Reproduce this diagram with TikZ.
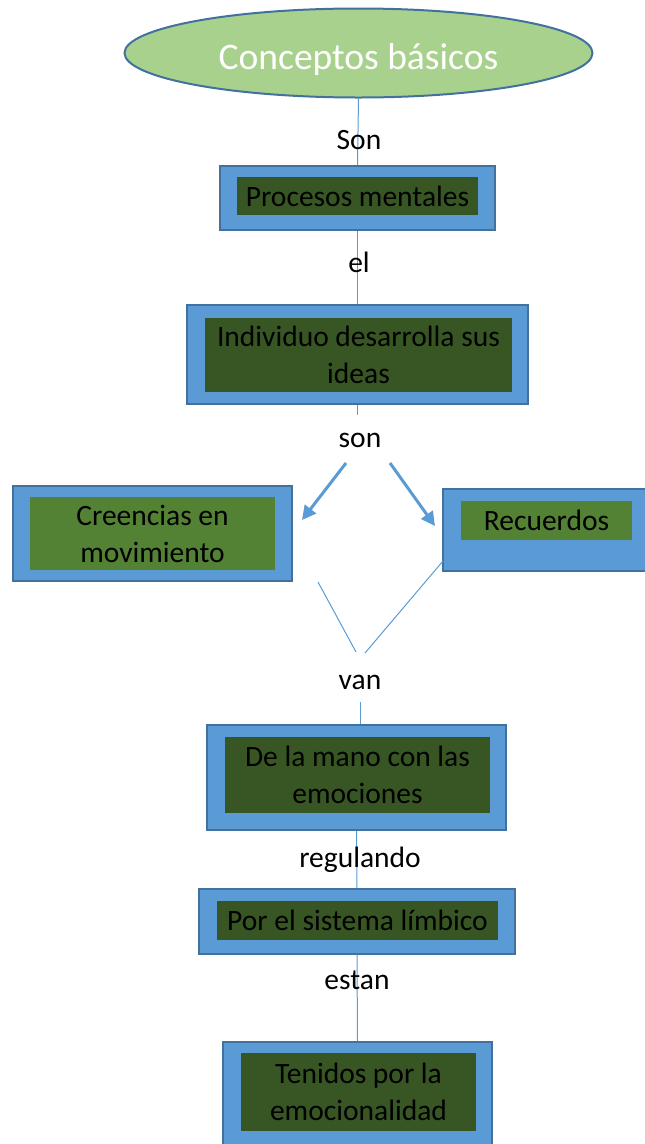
\documentclass[tikz,border=0pt]{standalone}
\usepackage{fontspec}
\setmainfont{Carlito}
\usetikzlibrary{arrows.meta,shapes.geometric}
\definecolor{boxblue}{HTML}{5B9BD5}
\definecolor{edgeblue}{HTML}{41719C}
\definecolor{darkgreen}{HTML}{375623}
\definecolor{midgreen}{HTML}{548235}
\definecolor{lightgreen}{HTML}{A9D18E}
\tikzset{
  outerbox/.style={draw=edgeblue, line width=2pt, fill=boxblue, inner sep=0pt},
  innerbox/.style={fill=darkgreen, inner sep=0pt, align=center, text=black,
    font=\fontsize{29.5}{37}\selectfont},
  lbl/.style={inner sep=0pt, text=black, font=\fontsize{29.5}{34}\selectfont},
  conn/.style={draw=boxblue, line width=1pt},
  arr/.style={draw=boxblue, line width=3pt, -{Triangle[length=14pt,width=14pt]}}
}
\begin{document}
\begin{tikzpicture}[x=1pt,y=-1pt]
\useasboundingbox (0,0) rectangle (645,1144);
% ellipse
\node[ellipse, draw=edgeblue, line width=2pt, fill=lightgreen, minimum width=468pt, minimum height=89pt, inner sep=0pt,
  text=white, font=\fontsize{37.5}{40}\selectfont] (ell) at (358.5,53) {\rule{0pt}{39pt}Conceptos básicos};
% boxes
\node[outerbox, minimum width=275pt, minimum height=64pt] (b1o) at (357.5,198) {};
\node[innerbox, minimum width=241pt, minimum height=38pt] (b1) at (357.5,196) {Procesos mentales};
\node[outerbox, minimum width=341pt, minimum height=99pt] (b2o) at (357.5,354.5) {};
\node[innerbox, minimum width=307pt, minimum height=74pt] (b2) at (358.5,355) {Individuo desarrolla sus\\ideas};
\node[outerbox, minimum width=279pt, minimum height=95pt] (b3o) at (152.5,533.5) {};
\node[innerbox, fill=midgreen, minimum width=245pt, minimum height=73pt] (b3) at (152.5,533.5) {Creencias en\\movimiento};
\node[outerbox, minimum width=207pt, minimum height=82pt] (b4o) at (546.5,530) {};
\node[innerbox, fill=midgreen, minimum width=171pt, minimum height=39pt] (b4) at (546.5,520.5) {Recuerdos};
\node[outerbox, minimum width=299pt, minimum height=105pt] (b5o) at (356.5,777.5) {};
\node[innerbox, minimum width=265pt, minimum height=76pt] (b5) at (357.5,775) {De la mano con las\\emociones};
\node[outerbox, minimum width=316pt, minimum height=65pt] (b6o) at (357,921.5) {};
\node[innerbox, minimum width=281pt, minimum height=39pt] (b6) at (357.5,920.5) {Por el sistema límbico};
\node[outerbox, minimum width=269pt, minimum height=108pt] (b7o) at (357.5,1096) {};
\node[innerbox, minimum width=235pt, minimum height=78pt] (b7) at (358.5,1092) {Tenidos por la\\emocionalidad};
% free ends
\coordinate (c2) at (357.5,415);
\coordinate (a1s) at (346,463);
\coordinate (a1e) at (302,520);
\coordinate (a2s) at (390,463);
\coordinate (a2e) at (435,526);
\coordinate (l1s) at (318,582);
\coordinate (l1e) at (356,652);
\coordinate (l2s) at (443,561);
\coordinate (l2e) at (365,653);
\coordinate (c5) at (360,702);
% connectors
\draw[conn] (ell.south) -- (b1o.north);
\draw[conn] (b1o.south) -- (b2o.north);
\draw[conn] (b2o.south) -- (c2);
\draw[arr] (a1s) -- (a1e);
\draw[arr] (a2s) -- (a2e);
\draw[conn] (l1s) -- (l1e);
\draw[conn] (l2s) -- (l2e);
\draw[conn] (c5) -- (c5 |- b5o.north);
\draw[conn] (b5o.south) -- (b6o.north);
\draw[conn] (b6o.south) -- (b7o.north);
% labels
\node[lbl] (t1) at (359,140) {Son};
\node[lbl] (t2) at (359,262) {el};
\node[lbl] (t3) at (360,440) {son};
\node[lbl] (t4) at (360,682) {van};
\node[lbl] (t5) at (360,860) {regulando};
\node[lbl] (t6) at (357,980) {estan};
\end{tikzpicture}
\end{document}
